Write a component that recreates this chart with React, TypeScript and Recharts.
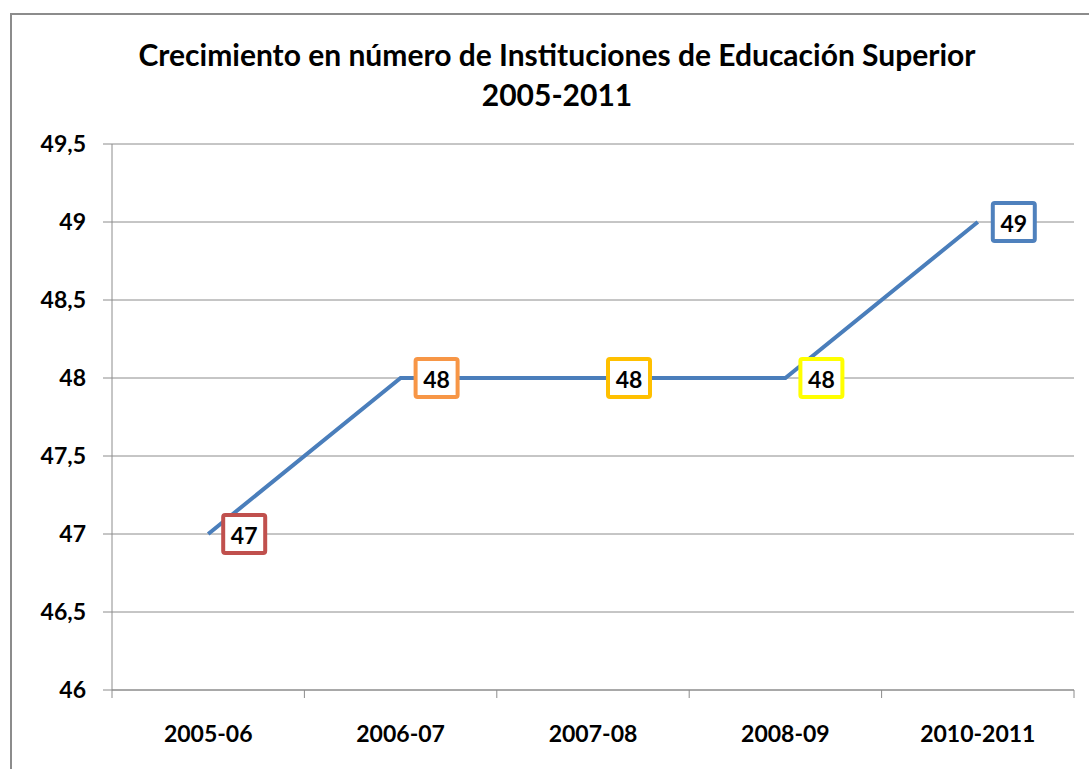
import { CartesianGrid, LabelList, Line, LineChart, XAxis, YAxis } from "recharts";

const categories = ["2005-06", "2006-07", "2007-08", "2008-09", "2010-2011"];
const institutions = [47, 48, 48, 48, 49];
const labelColors = ["#C0504D", "#F79646", "#FFC000", "#FFFF00", "#4F81BD"];
const yTicks = [46, 46.5, 47, 47.5, 48, 48.5, 49, 49.5];

const data = categories.map((periodo, i) => ({ periodo, valor: institutions[i] }));

const FONT = "Lato, 'Open Sans', sans-serif";
const GRAY = "#8c8c8c";
const HALF_BAND = 96.2;

function XTick(props: any) {
  const { x, y, payload, index } = props;
  const last = index === categories.length - 1;
  return (
    <g>
      <line x1={x - HALF_BAND} x2={x - HALF_BAND} y1={y} y2={y + 8} stroke={GRAY} />
      {last && <line x1={x + HALF_BAND} x2={x + HALF_BAND} y1={y} y2={y + 8} stroke={GRAY} />}
      <text
        x={x}
        y={y + 43}
        textAnchor="middle"
        dominantBaseline="central"
        fontFamily={FONT}
        fontWeight={700}
        fontSize={23}
        fill="#000"
      >
        {payload.value}
      </text>
    </g>
  );
}

function BoxLabel(props: any) {
  const { x, y, index, value } = props;
  const cx = x + 36;
  return (
    <g>
      <rect
        x={cx - 21}
        y={y - 19}
        width={42}
        height={38}
        rx={2}
        fill="#fff"
        stroke={labelColors[index]}
        strokeWidth={4}
      />
      <text
        x={cx}
        y={y + 1}
        textAnchor="middle"
        dominantBaseline="central"
        fontFamily={FONT}
        fontWeight={700}
        fontSize={23}
        fill="#000"
      >
        {value}
      </text>
    </g>
  );
}

export default function App() {
  return (
    <div
      style={{
        position: "absolute",
        left: 0,
        top: 0,
        width: 1089,
        height: 769,
        overflow: "hidden",
        background: "#fff",
      }}
    >
      <div
        style={{
          position: "absolute",
          left: 10,
          top: 13,
          width: 1200,
          height: 900,
          border: `2px solid ${GRAY}`,
        }}
      />
      <div
        style={{
          position: "absolute",
          left: 557,
          top: 34,
          transform: "translateX(-50%)",
          whiteSpace: "nowrap",
          textAlign: "center",
          fontFamily: FONT,
          fontWeight: 700,
          fontSize: 30,
          lineHeight: "40px",
          color: "#000",
        }}
      >
        Crecimiento en número de Instituciones de Educación Superior
        <br />
        2005-2011
      </div>
      <div style={{ position: "absolute", left: 0, top: 0 }}>
        <LineChart
          width={1089}
          height={769}
          data={data}
          margin={{ top: 144, right: 15, bottom: 0, left: 0 }}
        >
          <CartesianGrid horizontal vertical={false} stroke={GRAY} strokeWidth={1} />
          <XAxis
            dataKey="periodo"
            padding={{ left: HALF_BAND, right: HALF_BAND }}
            height={79}
            tickLine={false}
            tickSize={0}
            tickMargin={0}
            axisLine={{ stroke: GRAY }}
            tick={<XTick />}
            interval={0}
          />
          <YAxis
            width={112}
            domain={[46, 49.5]}
            ticks={yTicks}
            interval={0}
            tickSize={9}
            tickMargin={17}
            tickLine={{ stroke: GRAY }}
            axisLine={{ stroke: GRAY }}
            tickFormatter={(v: number) => String(v).replace(".", ",")}
            tick={{ fontFamily: FONT, fontWeight: 700, fontSize: 23, fill: "#000" }}
          />
          <Line
            type="linear"
            dataKey="valor"
            stroke="#4A7EBB"
            strokeWidth={4}
            dot={false}
            activeDot={false}
            isAnimationActive={false}
          >
            <LabelList dataKey="valor" content={<BoxLabel />} />
          </Line>
        </LineChart>
      </div>
    </div>
  );
}
